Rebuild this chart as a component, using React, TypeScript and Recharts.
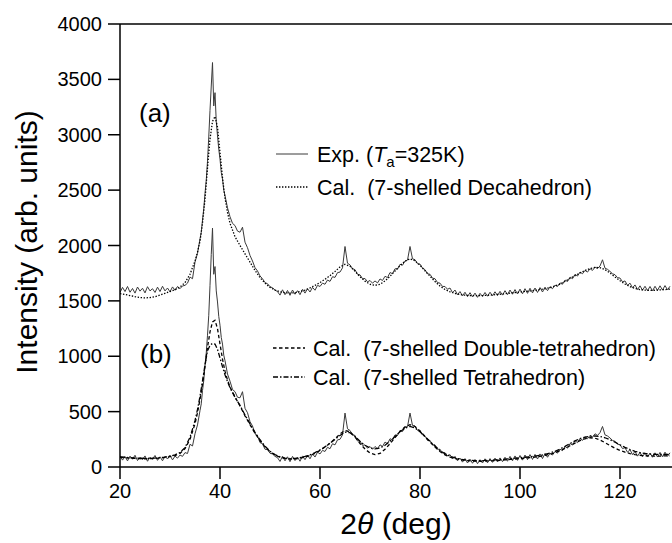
import React from "react";
import { LineChart, Line, XAxis, YAxis, ReferenceLine, Label } from "recharts";

// 2θ grid of the measured patterns (finer around the main peak)
const expTheta = [
  20, 20.5, 21, 21.5, 22, 22.5, 23, 23.5, 24, 24.5, 25, 25.5, 26, 26.5, 27, 27.5, 28, 28.5, 29, 29.5,
  30, 30.5, 31, 31.5, 32, 32.5, 33, 33.5, 34, 34.5, 35, 35.5,
  36, 36.25, 36.5, 36.75, 37, 37.25, 37.5, 37.75, 38, 38.25, 38.5, 38.75, 39, 39.25, 39.5, 39.75,
  40, 40.25, 40.5, 40.75,
  41, 41.5, 42, 42.5, 43, 43.5, 44, 44.5, 45, 45.5, 46, 46.5, 47, 47.5, 48, 48.5, 49, 49.5,
  50, 50.5, 51, 51.5, 52, 52.5, 53, 53.5, 54, 54.5, 55, 55.5, 56, 56.5, 57, 57.5, 58, 58.5, 59, 59.5,
  60, 60.5, 61, 61.5, 62, 62.5, 63, 63.5, 64, 64.5, 65, 65.5, 66, 66.5, 67, 67.5, 68, 68.5, 69, 69.5,
  70, 70.5, 71, 71.5, 72, 72.5, 73, 73.5, 74, 74.5, 75, 75.5, 76, 76.5, 77, 77.5, 78, 78.5, 79, 79.5,
  80, 80.5, 81, 81.5, 82, 82.5, 83, 83.5, 84, 84.5, 85, 85.5, 86, 86.5, 87, 87.5, 88, 88.5, 89, 89.5,
  90, 90.5, 91, 91.5, 92, 92.5, 93, 93.5, 94, 94.5, 95, 95.5, 96, 96.5, 97, 97.5, 98, 98.5, 99, 99.5,
  100, 100.5, 101, 101.5, 102, 102.5, 103, 103.5, 104, 104.5, 105, 105.5, 106, 106.5, 107, 107.5, 108, 108.5, 109, 109.5,
  110, 110.5, 111, 111.5, 112, 112.5, 113, 113.5, 114, 114.5, 115, 115.5, 116, 116.5, 117, 117.5, 118, 118.5, 119, 119.5,
  120, 120.5, 121, 121.5, 122, 122.5, 123, 123.5, 124, 124.5, 125, 125.5, 126, 126.5, 127, 127.5, 128, 128.5, 129, 129.5,
  130,
];

// Exp. (Ta=325K), panel (a), shifted up
const expA = [
  1575, 1622, 1584, 1630, 1578, 1612, 1570, 1625, 1588, 1614, 1572, 1628, 1590, 1610, 1576, 1624, 1584, 1632, 1590, 1616,
  1582, 1626, 1596, 1630, 1610, 1635, 1640, 1660, 1715, 1700, 1850, 1930,
  2060, 2120, 2230, 2330, 2470, 2590, 2760, 2980, 3220, 3440, 3652, 3260, 3380, 3120, 2990, 2870,
  2780, 2660, 2600, 2500,
  2450, 2340, 2260, 2200, 2180, 2130, 2120, 2165, 2030, 1980, 1910, 1860, 1800, 1770, 1725, 1700, 1665, 1655,
  1628, 1618, 1598, 1584, 1552, 1600, 1556, 1594, 1550, 1598, 1560, 1592, 1556, 1604, 1570, 1610, 1580, 1622, 1596, 1640,
  1630, 1660, 1650, 1688, 1676, 1718, 1712, 1755, 1760, 1798, 1991, 1840, 1825, 1790, 1782, 1740, 1735, 1700, 1702, 1672,
  1684, 1660, 1680, 1662, 1698, 1684, 1722, 1710, 1756, 1745, 1790, 1786, 1830, 1822, 1860, 1868, 1991, 1880, 1872, 1835,
  1832, 1795, 1782, 1745, 1740, 1705, 1700, 1665, 1660, 1630, 1630, 1605, 1616, 1574, 1598, 1556, 1584, 1546, 1578, 1538,
  1574, 1536, 1570, 1532, 1568, 1540, 1576, 1542, 1578, 1546, 1582, 1548, 1586, 1552, 1592, 1556, 1598, 1560, 1602, 1562,
  1606, 1564, 1610, 1568, 1614, 1572, 1616, 1576, 1620, 1580, 1624, 1592, 1628, 1610, 1642, 1630, 1662, 1650, 1688, 1675,
  1715, 1700, 1740, 1724, 1760, 1745, 1775, 1760, 1790, 1775, 1805, 1792, 1815, 1871, 1795, 1785, 1766, 1745, 1736, 1710,
  1706, 1672, 1680, 1640, 1660, 1618, 1644, 1602, 1636, 1596, 1632, 1592, 1630, 1590, 1632, 1594, 1636, 1598, 1638, 1600,
  1632,
];

// Exp. (Ta=325K), panel (b)
const expB = [
  102, 62, 94, 55, 98, 70, 106, 58, 90, 66, 100, 52, 88, 70, 104, 60, 92, 56, 98, 72,
  106, 64, 98, 80, 108, 96, 130, 122, 205, 190, 300, 380,
  510, 570, 690, 780, 920, 1030, 1190, 1370, 1640, 1920, 2157, 1740, 1810, 1590, 1490, 1360,
  1280, 1170, 1110, 1010,
  960, 840, 775, 700, 680, 630, 625, 680, 530, 490, 410, 370, 300, 280, 220, 210, 160, 158,
  124, 118, 96, 84, 50, 98, 56, 92, 48, 96, 58, 90, 52, 100, 66, 106, 74, 118, 90, 134,
  118, 150, 140, 178, 165, 210, 200, 245, 250, 290, 487, 345, 330, 290, 285, 235, 235, 195, 200, 170,
  185, 160, 185, 165, 200, 185, 225, 210, 255, 245, 290, 285, 330, 320, 360, 365, 487, 375, 370, 330,
  330, 290, 280, 240, 240, 200, 200, 160, 160, 125, 130, 100, 112, 72, 96, 56, 80, 44, 76, 36,
  70, 34, 68, 30, 66, 36, 74, 38, 76, 42, 80, 46, 82, 48, 88, 52, 96, 56, 100, 60,
  104, 62, 108, 66, 112, 68, 114, 72, 118, 76, 122, 88, 124, 108, 140, 125, 160, 148, 185, 170,
  212, 198, 238, 220, 258, 240, 272, 255, 285, 270, 300, 285, 310, 366, 290, 280, 262, 240, 232, 205,
  202, 166, 174, 134, 156, 112, 140, 98, 132, 92, 128, 90, 126, 88, 128, 90, 132, 92, 134, 96,
  128,
];

// 2θ grid of the calculated patterns
const calTheta = [
  20, 21, 22, 23, 24, 25, 26, 27, 28, 29, 30, 31, 32, 33, 34,
  35, 35.5, 36, 36.5, 37, 37.5, 38, 38.5, 39, 39.5, 40, 40.5, 41, 41.5,
  42, 43, 44, 45, 46, 47, 48, 49, 50, 51, 52, 53, 54, 55, 56, 57, 58, 59,
  60, 61, 62, 63, 64, 65, 66, 67, 68, 69, 70, 71, 72, 73, 74, 75, 76, 77, 78, 79,
  80, 81, 82, 83, 84, 85, 86, 87, 88, 89, 90, 91, 92, 93, 94, 95, 96, 97, 98, 99,
  100, 101, 102, 103, 104, 105, 106, 107, 108, 109, 110, 111, 112, 113, 114, 115, 116, 117, 118, 119,
  120, 121, 122, 123, 124, 125, 126, 127, 128, 129, 130,
];

// Cal. (7-shelled Decahedron), panel (a)
const calDeca = [
  1565, 1558, 1548, 1538, 1530, 1527, 1530, 1538, 1552, 1568, 1584, 1600, 1625, 1665, 1740,
  1860, 1940, 2040, 2200, 2420, 2700, 2960, 3120, 3165, 3070, 2840, 2610, 2430, 2300,
  2200, 2080, 2000, 1925, 1850, 1775, 1710, 1660, 1622, 1597, 1582, 1573, 1570, 1574, 1584, 1598, 1617, 1640,
  1666, 1695, 1728, 1766, 1806, 1830, 1812, 1768, 1718, 1678, 1650, 1640, 1650, 1680, 1722, 1770, 1818, 1858, 1880, 1862,
  1822, 1772, 1722, 1674, 1634, 1603, 1582, 1567, 1557, 1551, 1548, 1547, 1547, 1549, 1552, 1556, 1560, 1565, 1570, 1575,
  1580, 1585, 1590, 1595, 1601, 1609, 1620, 1634, 1652, 1676, 1702, 1728, 1752, 1774, 1792, 1802, 1800, 1782, 1752, 1716,
  1682, 1652, 1628, 1612, 1602, 1597, 1595, 1596, 1599, 1602, 1606,
];

// Cal. (7-shelled Double-tetrahedron), panel (b)
const calDoubleTetra = [
  88, 84, 80, 77, 75, 74, 75, 77, 81, 86, 93, 103, 122, 165, 250,
  390, 490, 610, 750, 910, 1080, 1220, 1310, 1325, 1250, 1110, 975, 865, 785,
  722, 632, 552, 462, 382, 305, 238, 182, 138, 108, 88, 77, 72, 73, 79, 89, 104, 124,
  150, 180, 215, 255, 298, 330, 318, 270, 212, 162, 126, 112, 122, 160, 210, 265, 320, 362, 382, 366,
  326, 276, 226, 180, 140, 110, 90, 76, 66, 60, 56, 53, 52, 53, 55, 57, 60, 64, 68, 72,
  76, 80, 85, 90, 96, 104, 115, 129, 147, 168, 192, 216, 238, 255, 264, 260, 244, 220, 194, 170,
  150, 134, 121, 112, 106, 102, 100, 99, 99, 100, 101,
];

// Cal. (7-shelled Tetrahedron), panel (b)
const calTetra = [
  92, 88, 84, 81, 79, 78, 79, 81, 85, 90, 98, 110, 130, 175, 268,
  418, 520, 638, 775, 925, 1048, 1098, 1116, 1110, 1062, 985, 905, 832, 772,
  716, 630, 556, 470, 390, 312, 246, 188, 142, 112, 92, 81, 76, 77, 84, 95, 110, 130,
  155, 183, 214, 248, 285, 315, 310, 275, 232, 196, 172, 164, 172, 196, 232, 275, 318, 350, 366, 352,
  318, 274, 230, 188, 150, 120, 98, 82, 71, 64, 60, 58, 58, 59, 61, 64, 67, 71, 75, 80,
  84, 88, 93, 98, 105, 114, 126, 142, 162, 186, 212, 236, 256, 270, 278, 280, 276, 264, 246, 224,
  200, 178, 158, 142, 130, 122, 117, 114, 113, 113, 114,
];

const xTicks = [20, 40, 60, 80, 100, 120];
const yTicks = [0, 500, 1000, 1500, 2000, 2500, 3000, 3500, 4000];

const FONT = '"Liberation Sans", Arial, Helvetica, sans-serif';

const expRows = expTheta.map((t, i) => ({ t, a: expA[i], b: expB[i] }));
const calRows = calTheta.map((t, i) => ({ t, deca: calDeca[i], dt: calDoubleTetra[i], tet: calTetra[i] }));

const EXP_STROKE = "#3a3a3a";
const DOT = "1.4 1.6";
const DASH = "3.5 2.5";
const DASHDOT = "5 2 1.5 2";
const LEGEND_FS = 21.5;

function XTitle(props: any) {
  const vb = props.viewBox || {};
  const cx = vb.x + vb.width / 2;
  return (
    <text x={cx} y={534} textAnchor="middle" fontFamily={FONT} fontSize={30} fill="#000">
      2<tspan fontStyle="italic">θ</tspan> (deg)
    </text>
  );
}

function YTitle() {
  return (
    <text x={0} y={0} transform="translate(37,242) rotate(-90)" textAnchor="middle" fontFamily={FONT} fontSize={30} fill="#000">
      Intensity (arb. units)
    </text>
  );
}

export default function App() {
  return (
    <div style={{ position: "absolute", left: 0, top: 0, width: 672, height: 543, background: "#fff" }}>
      <LineChart width={672} height={543} margin={{ top: 24, right: 0, bottom: 0, left: 0 }}>
        <XAxis
          type="number"
          dataKey="t"
          domain={[20, 130.4]}
          ticks={xTicks}
          allowDataOverflow
          height={76}
          stroke="#000"
          strokeWidth={1.5}
          tickSize={12}
          tickMargin={5}
          tick={{ fontFamily: FONT, fontSize: 20, fill: "#000" }}
        >
          <Label content={<XTitle />} />
        </XAxis>
        <YAxis
          type="number"
          domain={[0, 4000]}
          ticks={yTicks}
          width={120}
          stroke="#000"
          strokeWidth={1.5}
          tickSize={12}
          tickMargin={6}
          tick={{ fontFamily: FONT, fontSize: 20, fill: "#000" }}
        >
          <Label content={<YTitle />} />
        </YAxis>
        <ReferenceLine y={4000} stroke="#000" strokeWidth={1.5} />
        <Line data={expRows} dataKey="a" stroke={EXP_STROKE} strokeWidth={1} dot={false} isAnimationActive={false} />
        <Line data={calRows} dataKey="deca" stroke="#000" strokeWidth={1.3} strokeDasharray={DOT} dot={false} isAnimationActive={false} />
        <Line data={expRows} dataKey="b" stroke={EXP_STROKE} strokeWidth={1} dot={false} isAnimationActive={false} />
        <Line data={calRows} dataKey="dt" stroke="#000" strokeWidth={1.3} strokeDasharray={DASH} dot={false} isAnimationActive={false} />
        <Line data={calRows} dataKey="tet" stroke="#000" strokeWidth={1.3} strokeDasharray={DASHDOT} dot={false} isAnimationActive={false} />
      </LineChart>
      <svg
        width={672}
        height={543}
        style={{ position: "absolute", left: 0, top: 0, pointerEvents: "none" }}
        fontFamily={FONT}
      >
        <text x={139} y={122} fontSize={26} fill="#000">(a)</text>
        <text x={140} y={363} fontSize={26} fill="#000">(b)</text>

        <line x1={276} x2={308} y1={154} y2={154} stroke={EXP_STROKE} strokeWidth={1} />
        <text x={317} y={161.5} fontSize={LEGEND_FS} fill="#000" style={{ whiteSpace: "pre" }}>
          Exp. (<tspan fontStyle="italic">T</tspan>
          <tspan fontSize={15} dy={5}>a</tspan>
          <tspan dy={-5}>=325K)</tspan>
        </text>
        <line x1={276} x2={308} y1={187} y2={187} stroke="#000" strokeWidth={1.3} strokeDasharray={DOT} />
        <text x={317} y={194.5} fontSize={LEGEND_FS} fill="#000" style={{ whiteSpace: "pre" }}>
          {"Cal.  (7-shelled Decahedron)"}
        </text>

        <line x1={273} x2={305} y1={348} y2={348} stroke="#000" strokeWidth={1.3} strokeDasharray={DASH} />
        <text x={313} y={355.5} fontSize={LEGEND_FS} fill="#000" style={{ whiteSpace: "pre" }}>
          {"Cal.  (7-shelled Double-tetrahedron)"}
        </text>
        <line x1={273} x2={305} y1={377} y2={377} stroke="#000" strokeWidth={1.3} strokeDasharray={DASHDOT} />
        <text x={313} y={384.5} fontSize={LEGEND_FS} fill="#000" style={{ whiteSpace: "pre" }}>
          {"Cal.  (7-shelled Tetrahedron)"}
        </text>
      </svg>
    </div>
  );
}
